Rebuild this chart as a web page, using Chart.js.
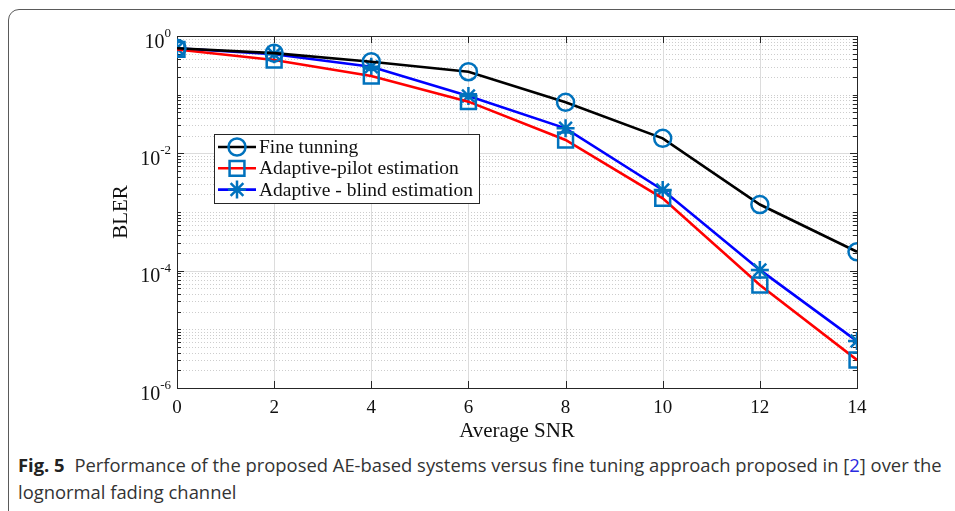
<!DOCTYPE html>
<html>
<head>
<meta charset="utf-8">
<script src="https://cdn.jsdelivr.net/npm/chart.js@4.4.1/dist/chart.umd.min.js"></script>
<style>
body { margin:0; background:#fff; width:955px; height:511px; overflow:hidden; position:relative; }
.frame { position:absolute; left:8px; top:9px; width:1000px; height:520px; border:1.5px solid #5a5a5a; border-radius:11px; box-sizing:border-box; }
#wrap { position:absolute; left:0; top:0; width:955px; height:450px; }
.caption { position:absolute; left:18px; top:451px; width:937px; font-family:"Open Sans"; font-size:18.4px; line-height:27px; color:#333; white-space:nowrap; }
.caption b { color:#222; margin-right:5px; }
.caption span { color:#2a2ae0; }
</style>
</head>
<body>
<div class="frame"></div>
<div id="wrap"><canvas id="myChart" width="955" height="450"></canvas></div>
<div class="caption"><b>Fig. 5</b> Performance of the proposed AE-based systems versus fine tuning approach proposed in [<span>2</span>] over the<br>lognormal fading channel</div>

<script>
// data
const snr = [0, 2, 4, 6, 8, 10, 12, 14];
const fineTuning = [0.62, 0.51, 0.365, 0.246, 0.074, 0.018, 0.00134, 0.00021];
const adaptivePilot = [0.59, 0.39, 0.208, 0.076, 0.0169, 0.00171, 0.000057, 0.0000030];
const adaptiveBlind = [0.62, 0.49, 0.30, 0.095, 0.0267, 0.00237, 0.000103, 0.0000063];
const seriesNames = ['Fine tunning', 'Adaptive-pilot estimation', 'Adaptive - blind estimation'];
const xTicks = [0, 2, 4, 6, 8, 10, 12, 14];
const yTickExps = [0, -2, -4, -6];

const markerColor = '#0072BD';
const serif = 'Liberation Serif';

const pts = (vals) => snr.map((s, i) => ({x: s, y: vals[i]}));

const data = {
  datasets: [{
    label: seriesNames[0],
    data: pts(fineTuning),
    borderColor: '#000000',
    pointStyle: 'circle',
    pointRadius: 8.5,
  },
  {
    label: seriesNames[1],
    data: pts(adaptivePilot),
    borderColor: '#ff0000',
    pointStyle: 'rect',
    pointRadius: 10.5,
  },
  {
    label: seriesNames[2],
    data: pts(adaptiveBlind),
    borderColor: '#0000ff',
    pointStyle: 'star',
    pointRadius: 9,
  }]
};
data.datasets.forEach(d => {
  d.borderWidth = 2.6;
  d.tension = 0;
  d.pointBorderColor = markerColor;
  d.pointBackgroundColor = 'rgba(0,0,0,0)';
  d.pointBorderWidth = 2.5;
});

const line = (ctx, x1, y1, x2, y2) => {
  ctx.beginPath(); ctx.moveTo(x1, y1); ctx.lineTo(x2, y2); ctx.stroke();
}

// matlab style axes: grid, box, ticks, labels, legend
const matlabAxes = {
  id: 'matlabAxes',
  beforeDatasetsDraw(chart) {
    const {ctx, chartArea: a, scales: {x, y}} = chart;
    ctx.save();
    ctx.lineWidth = 1;
    // minor dotted grid
    ctx.strokeStyle = '#cdcdcd';
    ctx.setLineDash([1, 2]);
    for (let e = -6; e < 0; e++) {
      for (let k = 1; k <= 9; k++) {
        if (k == 1 && yTickExps.includes(e)) continue;
        const py = Math.round(y.getPixelForValue(k * Math.pow(10, e))) + 0.5;
        line(ctx, a.left, py, a.right, py);
      }
    }
    ctx.setLineDash([]);
    // major grid
    ctx.strokeStyle = '#dcdcdc';
    yTickExps.forEach(e => {
      const py = Math.round(y.getPixelForValue(Math.pow(10, e))) + 0.5;
      line(ctx, a.left, py, a.right, py);
    });
    xTicks.forEach(v => {
      const px = Math.round(x.getPixelForValue(v)) + 0.5;
      line(ctx, px, a.top, px, a.bottom);
    });
    // box
    ctx.strokeStyle = '#262626';
    ctx.strokeRect(Math.round(a.left) + 0.5, Math.round(a.top) + 0.5, Math.round(a.right - a.left), Math.round(a.bottom - a.top));
    // ticks
    xTicks.forEach(v => {
      const px = Math.round(x.getPixelForValue(v)) + 0.5;
      line(ctx, px, a.bottom, px, a.bottom - 7);
      line(ctx, px, a.top, px, a.top + 7);
    });
    for (let e = -6; e <= 0; e++) {
      for (let k = 1; k <= 9; k++) {
        if (e == 0 && k > 1) break;
        const py = Math.round(y.getPixelForValue(k * Math.pow(10, e))) + 0.5;
        const len = (k == 1 && yTickExps.includes(e)) ? 7 : 4;
        line(ctx, a.left, py, a.left + len, py);
        line(ctx, a.right, py, a.right - len, py);
      }
    }
    ctx.restore();
  },
  afterDraw(chart) {
    const {ctx, chartArea: a, scales: {x, y}} = chart;
    ctx.save();
    ctx.fillStyle = '#111';
    // x tick labels
    ctx.font = '19px "' + serif + '"';
    ctx.textAlign = 'center';
    ctx.textBaseline = 'alphabetic';
    xTicks.forEach(v => ctx.fillText(String(v), x.getPixelForValue(v), a.bottom + 25));
    // y tick labels 10^e
    ctx.textAlign = 'left';
    yTickExps.forEach(e => {
      const py = y.getPixelForValue(Math.pow(10, e));
      ctx.font = '13px "' + serif + '"';
      const sup = String(e);
      const sw = ctx.measureText(sup).width;
      ctx.font = '20px "' + serif + '"';
      const bw = ctx.measureText('10').width;
      const right = a.left - 6;
      ctx.fillText('10', right - sw - bw, py + 11.5);
      ctx.font = '13px "' + serif + '"';
      ctx.fillText(sup, right - sw, py + 1);
    });
    // axis titles
    ctx.font = '21px "' + serif + '"';
    ctx.textAlign = 'center';
    ctx.fillText('Average SNR', (a.left + a.right) / 2, a.bottom + 49);
    ctx.save();
    ctx.translate(a.left - 50, (a.top + a.bottom) / 2);
    ctx.rotate(-Math.PI / 2);
    ctx.fillText('BLER', 0, 0);
    ctx.restore();

    // legend
    const lx = a.left + 37, ly = a.top + 98, lw = 265, lh = 69;
    ctx.fillStyle = '#fff';
    ctx.fillRect(lx, ly, lw, lh);
    ctx.strokeStyle = '#262626';
    ctx.lineWidth = 1;
    ctx.strokeRect(lx + 0.5, ly + 0.5, lw, lh);
    ctx.font = '19.5px "' + serif + '"';
    ctx.textAlign = 'left';
    ctx.textBaseline = 'middle';
    chart.data.datasets.forEach((d, i) => {
      const ry = ly + 13 + i * 21.3;
      ctx.strokeStyle = d.borderColor;
      ctx.lineWidth = d.borderWidth;
      line(ctx, lx + 4, ry, lx + 42, ry);
      ctx.strokeStyle = markerColor;
      ctx.fillStyle = 'rgba(0,0,0,0)';
      ctx.lineWidth = 2.5;
      Chart.helpers.drawPoint(ctx, {pointStyle: d.pointStyle, radius: d.pointRadius, rotation: 0, borderWidth: 2.5}, lx + 23, ry);
      ctx.fillStyle = '#111';
      ctx.fillText(d.label, lx + 45, ry + 1);
    });
    ctx.restore();
  }
};

const config = {
  type: 'line',
  data: data,
  options: {
    responsive: false,
    animation: false,
    layout: {
      padding: {left: 177, top: 36, right: 98, bottom: 62}
    },
    scales: {
      x: {
        type: 'linear',
        min: 0,
        max: 14,
        ticks: {display: false, stepSize: 2},
        grid: {display: false, drawTicks: false},
        border: {display: false},
      },
      y: {
        type: 'logarithmic',
        min: 1e-6,
        max: 1,
        ticks: {display: false},
        grid: {display: false, drawTicks: false},
        border: {display: false},
      },
    },
    plugins: {
      legend: {display: false},
      tooltip: {enabled: false},
    }
  },
  plugins: [matlabAxes]
};

function start(){
  var ctx = document.getElementById("myChart").getContext("2d");
  var LineChart = new Chart(ctx, config);
}

window.onload = start;
</script>
</body>
</html>
